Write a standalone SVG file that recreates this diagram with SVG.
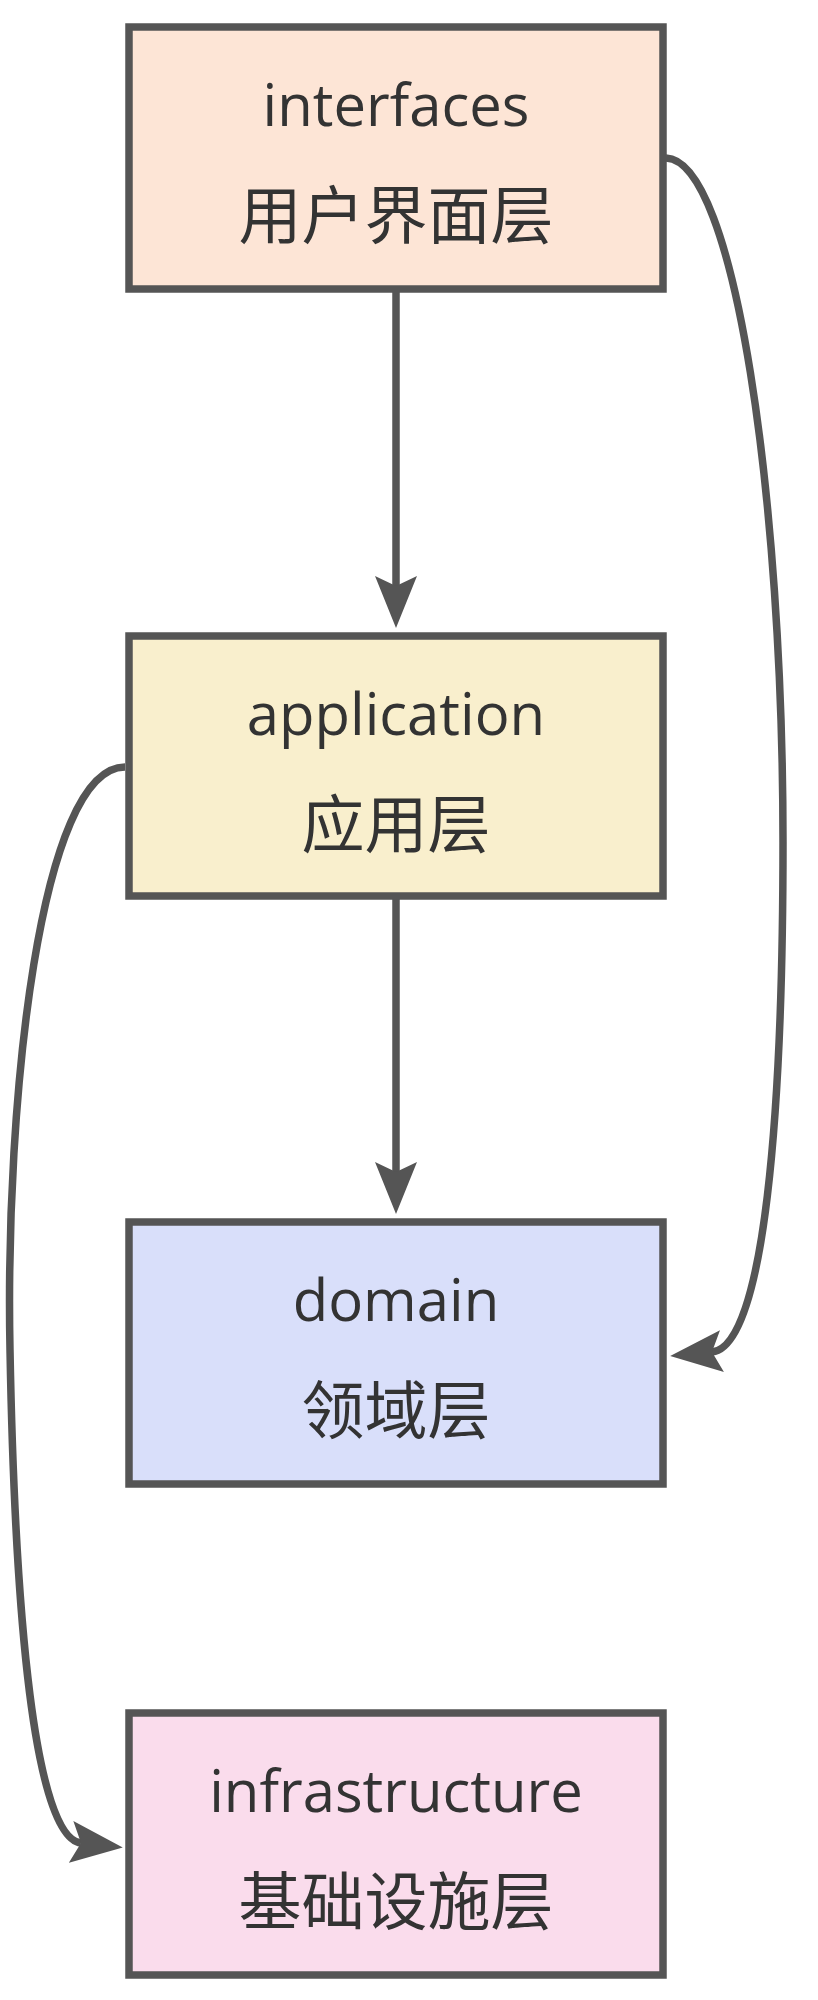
<svg xmlns="http://www.w3.org/2000/svg" width="818" height="2000" viewBox="0 0 818 2000">
<style>
.box{stroke:#555555;stroke-width:7.5}
.lat{font-family:"Open Sans","Noto Sans CJK SC",sans-serif;font-size:58px;fill:#333333;text-anchor:middle}
.cjk{font-family:"Noto Sans CJK SC",sans-serif;font-size:63px;fill:#333333;text-anchor:middle}
.edge{fill:none;stroke:#555555;stroke-width:7.5;marker-end:url(#arr)}
</style>
<defs>
<marker id="arr" markerUnits="userSpaceOnUse" viewBox="0 0 52 42" markerWidth="52" markerHeight="42" refX="10" refY="21" orient="auto">
<path d="M0,0 L52,21 L0,42 L10,21 Z" fill="#555555"/>
</marker>
</defs>
<rect width="818" height="2000" fill="#ffffff"/>
<g id="connectors">
<path class="edge" d="M396,289 L396,586"/>
<path class="edge" d="M396,896 L396,1172"/>
<path class="edge" d="M666,158 C735,160 783,500 783,842 C783,1110 765,1347 712,1352"/>
<path class="edge" d="M125,767 C40,767 5,1100 10,1350 C15,1620 35,1838 81,1843"/>
</g>
<g id="interfaces">
<rect class="box" x="129" y="27" width="534" height="262" fill="#fde5d6"/>
<text class="lat" x="396" y="126">interfaces</text>
<text class="cjk" x="396" y="238">用户界面层</text>
</g>
<g id="application">
<rect class="box" x="129" y="636" width="534" height="260" fill="#f9efcd"/>
<text class="lat" x="396" y="735">application</text>
<text class="cjk" x="396" y="847">应用层</text>
</g>
<g id="domain">
<rect class="box" x="129" y="1222" width="534" height="262" fill="#d9dffa"/>
<text class="lat" x="396" y="1321">domain</text>
<text class="cjk" x="396" y="1433">领域层</text>
</g>
<g id="infrastructure">
<rect class="box" x="129" y="1713" width="534" height="262" fill="#fadcec"/>
<text class="lat" x="396" y="1812">infrastructure</text>
<text class="cjk" x="396" y="1924">基础设施层</text>
</g>
</svg>
